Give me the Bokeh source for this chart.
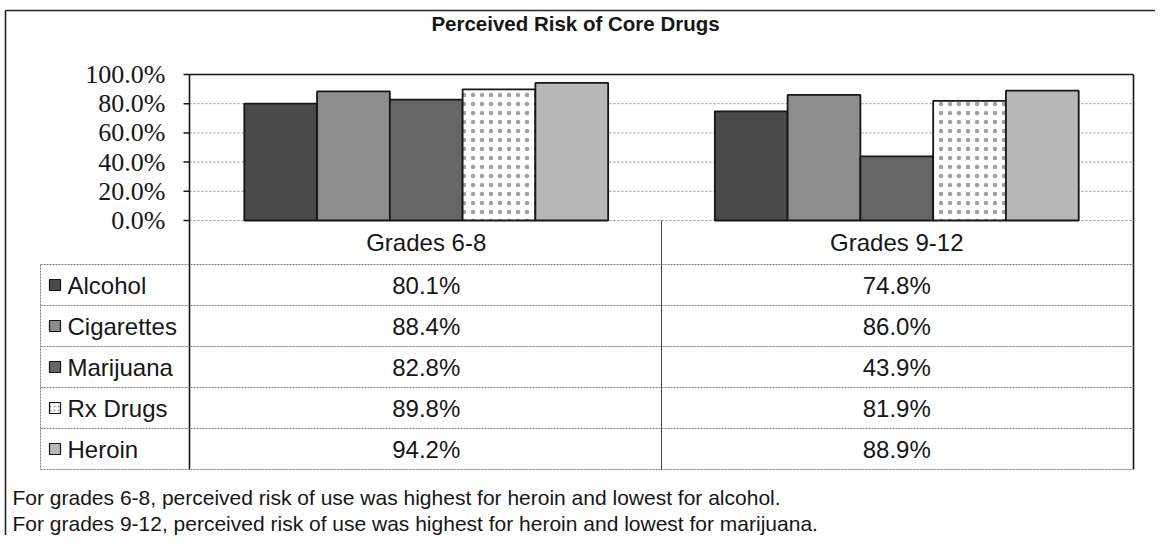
from bokeh.plotting import figure
from bokeh.models import Range1d
from bokeh.embed import file_html
from bokeh.resources import INLINE
from bokeh.core.properties import value

# ---------------- data ----------------
chart_title = "Perceived Risk of Core Drugs"
grades = ["Grades 6-8", "Grades 9-12"]
drugs = ["Alcohol", "Cigarettes", "Marijuana", "Rx Drugs", "Heroin"]
risk_grades_6_8 = [0.801, 0.884, 0.828, 0.898, 0.942]
risk_grades_9_12 = [0.748, 0.860, 0.439, 0.819, 0.889]
y_tick_values = [0.0, 0.2, 0.4, 0.6, 0.8, 1.0]
notes = [
    "For grades 6-8, perceived risk of use was highest for heroin and lowest for alcohol.",
    "For grades 9-12, perceived risk of use was highest for heroin and lowest for marijuana.",
]

# ---------------- styles ----------------
drug_fill = ["#4a4a4a", "#8d8d8d", "#666666", "#ffffff", "#b8b8b8"]
drug_hatch = [" ", " ", " ", "dot", " "]
SANS = "Liberation Sans"
SERIF = "Liberation Serif"
INK = "#161616"
TABLE_LINE = "#7d7d7d"

# ---------------- layout (image pixels) ----------------
W, H = 1155, 535
PLOT_L, PLOT_R = 189, 1133  # plot area left / right
PLOT_T, PLOT_B = 74, 220    # plot area top (100%) / bottom (0%)
HDR_B = 264                 # bottom of header row
ROW_H = 41
TABLE_L = 40

n, G = len(drugs), len(grades)
GROUP_PAD = 1.466           # gap between the two bar groups, in bar widths
END_PAD = 0.753             # gap at each end, in bar widths
inner = G * n + (G - 1) * GROUP_PAD
ppu = (PLOT_R - PLOT_L) / (inner + 2 * END_PAD)
ppy = float(PLOT_B - PLOT_T)


def X(px):
    return -END_PAD + (px - PLOT_L) / ppu


def Y(py):
    return (PLOT_B - py) / ppy


x_a, x_b = X(PLOT_L), X(PLOT_R)
table_bottom = HDR_B + ROW_H * n

p = figure(width=W, height=H, x_range=Range1d(X(0), X(W)), y_range=Range1d(Y(H), Y(0)),
           output_backend="svg", toolbar_location=None, x_axis_location=None,
           y_axis_location=None, min_border=0)
p.xgrid.visible = False
p.ygrid.visible = False
p.outline_line_color = None
p.background_fill_color = "white"
p.border_fill_color = "white"

# outer border (left and top)
p.segment(x0=[X(5), X(5)], y0=[Y(10), Y(10)], x1=[X(5), X(W)], y1=[Y(H), Y(10)],
          line_color="#222222", line_width=1.6)

# title
p.text(x=[X(575)], y=[Y(23)], text=[chart_title], text_align="center", text_baseline="middle",
       text_font=value(SANS), text_font_size="20.5px", text_font_style="bold", text_color=INK)

# gridlines
grid_ticks = [t for t in y_tick_values if t < 1.0]
p.segment(x0=[x_a] * len(grid_ticks), x1=[x_b] * len(grid_ticks), y0=grid_ticks, y1=grid_ticks,
          line_color="#8c8c8c", line_width=1, line_dash="2 2")

# bars
bar_x = [gi * (n + GROUP_PAD) + di + 0.5 for gi in range(G) for di in range(n)]
values_by_grade = [risk_grades_6_8, risk_grades_9_12]
tops = [v for vals in values_by_grade for v in vals]
p.vbar(x=bar_x, top=tops, bottom=0, width=1.0, fill_color=drug_fill * G,
       line_color=INK, line_width=1.8, hatch_pattern=drug_hatch * G,
       hatch_color="#a0a0a0", hatch_scale=9, hatch_weight=0.4)

# plot frame: top border, y axis line, right border (continuing through the table)
p.segment(x0=[x_a, x_a, x_b], y0=[1.0, 1.0, 1.0], x1=[x_b, x_a, x_b],
          y1=[1.0, Y(table_bottom), Y(table_bottom)], line_color=INK, line_width=1.6)

# y ticks and labels
p.segment(x0=[X(PLOT_L - 6)] * len(y_tick_values), x1=[x_a] * len(y_tick_values),
          y0=y_tick_values, y1=y_tick_values, line_color=INK, line_width=1.5)
p.text(x=[X(165)] * len(y_tick_values), y=y_tick_values,
       text=[f"{t * 100:.1f}%" for t in y_tick_values], text_align="right", text_baseline="middle",
       text_font=value(SERIF), text_font_size="26px", text_color=INK)

# header row
divider = n + GROUP_PAD / 2
col_centers = [gi * (n + GROUP_PAD) + n / 2 for gi in range(G)]
p.segment(x0=[divider], y0=[0], x1=[divider], y1=[Y(table_bottom)], line_color="#444444", line_width=1)
p.text(x=col_centers, y=[Y((PLOT_B + HDR_B) / 2)] * G, text=grades, text_align="center",
       text_baseline="middle", text_font=value(SANS), text_font_size="24px", text_color=INK)

# table grid
row_lines = [Y(HDR_B + ROW_H * k) for k in range(n + 1)]
p.segment(x0=[X(TABLE_L)] * (n + 1), x1=[x_b] * (n + 1), y0=row_lines, y1=row_lines,
          line_color=TABLE_LINE, line_width=1, line_dash="2 1")
p.segment(x0=[X(TABLE_L)], x1=[X(TABLE_L)], y0=[Y(HDR_B)], y1=[Y(table_bottom)],
          line_color=TABLE_LINE, line_width=1, line_dash="2 1")

# table rows: legend swatch, drug name, values
row_y = [Y(HDR_B + ROW_H * (i + 0.5)) for i in range(n)]
p.scatter(x=[X(54.5)] * n, y=row_y, marker="square", size=11, fill_color=drug_fill,
          line_color=INK, line_width=1.2, hatch_pattern=drug_hatch, hatch_color="#9a9a9a",
          hatch_scale=4, hatch_weight=1)
p.text(x=[X(67)] * n, y=row_y, text=drugs, text_align="left", text_baseline="middle",
       text_font=value(SANS), text_font_size="24px", text_color=INK)
for gi, vals in enumerate(values_by_grade):
    p.text(x=[col_centers[gi]] * n, y=row_y, text=[f"{v * 100:.1f}%" for v in vals],
           text_align="center", text_baseline="middle",
           text_font=value(SANS), text_font_size="24px", text_color=INK)

# footer notes
p.text(x=[X(12)] * len(notes), y=[Y(497), Y(523)], text=notes, text_align="left",
       text_baseline="middle", text_font=value(SANS), text_font_size="21px", text_color=INK)

open("out.html", "w").write(file_html(p, INLINE))
